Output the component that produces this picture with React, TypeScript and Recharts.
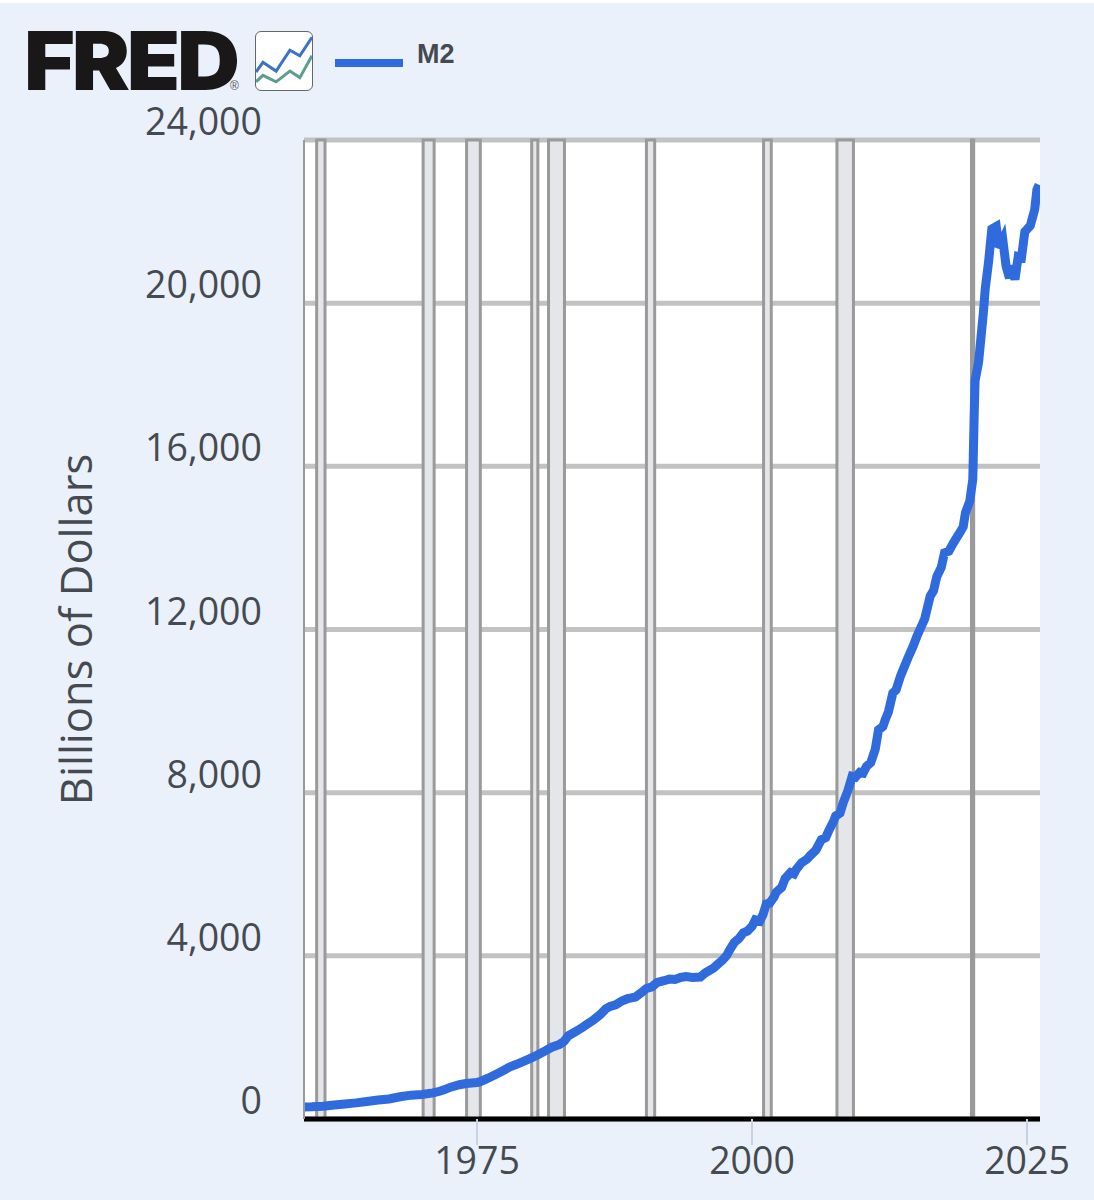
import React from 'react';
import {
  LineChart,
  Line,
  XAxis,
  YAxis,
  CartesianGrid,
  ReferenceArea,
} from 'recharts';

// M2, billions of dollars
const years = [
  1959.2, 1960, 1961, 1962, 1963, 1964, 1965, 1966, 1967, 1968, 1969, 1970, 1971,
  1971.6, 1972, 1972.6, 1973.4, 1974, 1975, 1975.3, 1976, 1976.6, 1977.4, 1978, 1978.6,
  1979.8, 1980.5, 1981, 1981.8, 1982.5, 1982.9, 1983.3, 1984, 1984.5, 1985, 1985.6, 1986.2,
  1986.7, 1987.1, 1987.6, 1988.2, 1988.7, 1989.4, 1989.9, 1990.4, 1990.9, 1991.4, 1992,
  1992.5, 1993, 1993.5, 1994, 1994.6, 1995.3, 1995.8, 1996.5, 1997, 1997.3, 1997.7, 1998,
  1998.4, 1998.8, 1999.2, 1999.6, 2000, 2000.3, 2000.7, 2001, 2001.3, 2001.6, 2002, 2002.2,
  2002.7, 2003, 2003.5, 2003.8, 2004, 2004.5, 2005, 2005.3, 2005.8, 2006.3, 2006.7, 2007,
  2007.4, 2007.6, 2008, 2008.3, 2008.7, 2009.1, 2009.4, 2009.8, 2010.1, 2010.4, 2010.8,
  2011.2, 2011.5, 2011.9, 2012.1, 2012.4, 2012.8, 2013.1, 2013.5, 2014.2, 2014.6, 2015,
  2015.4, 2015.7, 2016.2, 2016.5, 2016.8, 2017.2, 2017.5, 2017.9, 2018.3, 2018.9, 2019.2,
  2019.4, 2019.8, 2020.07, 2020.2, 2020.28, 2020.6, 2021.03, 2021.2, 2021.5, 2021.8, 2022.2,
  2022.4, 2022.6, 2022.8, 2023.1, 2023.4, 2023.6, 2023.9, 2024.2, 2024.5, 2024.8, 2025.3,
  2025.7, 2025.9, 2026.1,
];
const m2 = [
  294, 300, 315, 345, 370, 395, 430, 465, 490, 545, 585, 600, 640,
  680, 715, 780, 840, 870, 895, 915, 1000, 1080, 1190, 1280, 1340,
  1480, 1570, 1640, 1760, 1830, 1900, 2040, 2150, 2230, 2320, 2430, 2560,
  2700, 2760, 2800, 2900, 2950, 2990, 3090, 3200, 3240, 3350, 3390,
  3430, 3420, 3470, 3490, 3470, 3480, 3590, 3700, 3820, 3890, 4010, 4160,
  4330, 4420, 4560, 4610, 4720, 4880, 4850, 5010, 5270, 5290, 5440, 5560,
  5680, 5890, 6040, 6010, 6110, 6280, 6370, 6460, 6590, 6850, 6900, 7080,
  7290, 7430, 7500, 7760, 8040, 8400, 8380, 8500, 8480, 8640, 8740,
  9060, 9540, 9620, 9780, 9980, 10440, 10520, 10860, 11320, 11560, 11840,
  12080, 12260, 12820, 12950, 13300, 13520, 13880, 13920, 14120, 14380, 14520,
  14860, 15150, 15680, 17300, 18100, 18560, 19760, 20350, 21000, 21820, 21880,
  21450, 21430, 21550, 20900, 20620, 20920, 20580, 21140, 21120, 21750, 21900,
  22300, 22780, 22900,
];
const seriesData = years.map((year, i) => ({ year, m2: m2[i] }));

// recession bands, start and end as fractional years
const recessionStart = [1960.42, 1970.1, 1974.05, 1979.97, 1981.5, 1990.4, 2001.05, 2007.72, 2019.95];
const recessionEnd = [1961.18, 1971.1, 1975.3, 1980.53, 1982.95, 1991.15, 2001.75, 2009.22, 2020.15];

const yTicks = [0, 4000, 8000, 12000, 16000, 20000, 24000];
const xTicks = [1975, 2000, 2025];

// the little logo chart next to FRED
const iconX = [0, 21, 61, 103, 133, 170];
const iconBlue = [55, 85, 58, 122, 105, 162];
const iconGreen = [25, 45, 25, 58, 38, 105];
const iconData = iconX.map((x, i) => ({ x, blue: iconBlue[i], green: iconGreen[i] }));

const FONT = '"Open Sans", sans-serif';
const TEXT = '#454a50';
const BLUE = '#2f6bdc';

const YTick = ({ x, y, payload }: any) => (
  <text x={x} y={y - 18} dy="0.35em" textAnchor="end" fontFamily={FONT} fontSize={37.5} fill={TEXT}>
    {payload.value.toLocaleString('en-US')}
  </text>
);

const XTick = ({ x, y, payload }: any) => (
  <text x={x} y={y + 1} dy="0.35em" textAnchor="middle" fontFamily={FONT} fontSize={37.5} fill={TEXT}>
    {payload.value}
  </text>
);

export default function App() {
  return (
    <div style={{ position: 'absolute', left: 0, top: 0, width: 1094, height: 1200, background: '#fff', overflow: 'hidden' }}>
      <div style={{ position: 'absolute', left: 0, top: 3, width: 1094, height: 1197, background: '#eaf1fb' }} />

      {/* logo */}
      <div
        style={{
          position: 'absolute', left: 24, top: 31, fontFamily: 'Inter, sans-serif', fontWeight: 900,
          fontSize: 81, lineHeight: '60px', letterSpacing: -3, color: '#1a1718',
          transform: 'scaleX(1.077)', transformOrigin: 'left center',
        }}
      >
        FRED
      </div>
      <div style={{ position: 'absolute', left: 230, top: 79, fontFamily: 'Liberation Sans', fontSize: 12, lineHeight: '14px', color: '#555' }}>®</div>
      <div
        style={{
          position: 'absolute', left: 255, top: 31, width: 56, height: 58, background: '#fff',
          border: '1px solid #666', borderRadius: 6, overflow: 'hidden',
        }}
      >
        <LineChart width={56} height={58} data={iconData} margin={{ top: 0, right: 0, bottom: 0, left: 0 }}>
          <XAxis type="number" dataKey="x" domain={[0, 170]} hide />
          <YAxis domain={[0, 178]} hide />
          <Line dataKey="green" stroke="#5b9e90" strokeWidth={3} dot={false} isAnimationActive={false} />
          <Line dataKey="blue" stroke="#3c72c6" strokeWidth={3} dot={false} isAnimationActive={false} />
        </LineChart>
      </div>

      {/* legend */}
      <div style={{ position: 'absolute', left: 335, top: 59, width: 68, height: 8, background: BLUE }} />
      <div
        style={{
          position: 'absolute', left: 417, top: 40, fontFamily: '"Liberation Sans", Arial, sans-serif',
          fontWeight: 700, fontSize: 27, lineHeight: '28px', color: TEXT,
        }}
      >
        M2
      </div>

      <div style={{ position: 'absolute', left: 0, top: 0 }}>
        <LineChart
          width={1094}
          height={1200}
          data={seriesData}
          margin={{ top: 140, right: 54, bottom: 0, left: 0 }}
        >
          <CartesianGrid fill="#ffffff" stroke="none" />
          {recessionStart.map((start, i) => (
            <ReferenceArea
              key={start}
              x1={start}
              x2={recessionEnd[i]}
              fill="#e4e6ea"
              fillOpacity={1}
              stroke="#9a9a9a"
              strokeWidth={3}
            />
          ))}
          <CartesianGrid vertical={false} stroke="#c2c2c2" strokeWidth={5} />
          <XAxis
            type="number"
            dataKey="year"
            domain={[1959.27, 2026.18]}
            allowDataOverflow
            ticks={xTicks}
            height={81}
            tick={<XTick />}
            tickSize={26}
            tickMargin={15}
            tickLine={{ stroke: '#c9d1e0', strokeWidth: 2 }}
            axisLine={{ stroke: '#000000', strokeWidth: 5 }}
          />
          <YAxis
            type="number"
            domain={[0, 24000]}
            ticks={yTicks}
            width={304}
            tick={<YTick />}
            tickSize={0}
            tickMargin={42}
            axisLine={{ stroke: '#9a9a9a', strokeWidth: 2 }}
            label={{
              value: 'Billions of Dollars',
              angle: -90,
              position: 'insideLeft',
              offset: 77,
              style: { fontFamily: FONT, fontSize: 43.5, fill: TEXT, textAnchor: 'middle' },
            }}
          />
          <Line
            type="linear"
            dataKey="m2"
            stroke={BLUE}
            strokeWidth={9}
            strokeLinejoin="miter"
            dot={false}
            isAnimationActive={false}
          />
        </LineChart>
      </div>
    </div>
  );
}
